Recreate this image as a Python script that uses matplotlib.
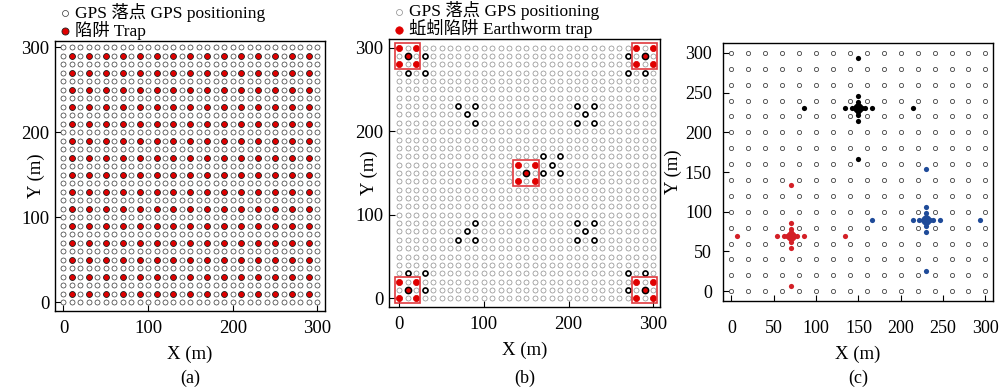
import matplotlib
matplotlib.use("Agg")
import numpy as np
import matplotlib.pyplot as plt
from matplotlib.patches import Rectangle

plt.rcParams['font.family'] = ['Liberation Serif', 'Noto Sans CJK SC']
plt.rcParams['font.size'] = 13

# ---- data ----
grid_ab = [0, 10, 20, 30, 40, 50, 60, 70, 80, 90, 100, 110, 120, 130, 140, 150,
           160, 170, 180, 190, 200, 210, 220, 230, 240, 250, 260, 270, 280, 290, 300]
traps_a = [10, 30, 50, 70, 90, 110, 130, 150, 170, 190, 210, 230, 250, 270, 290]

# panel b: earthworm traps (cluster corners), cluster centres, highlighted GPS points
trap_b_x = [0, 20, 0, 20, 280, 300, 280, 300, 0, 20, 0, 20, 280, 300, 280, 300,
            140, 160, 140, 160]
trap_b_y = [300, 300, 280, 280, 300, 300, 280, 280, 20, 20, 0, 0, 20, 20, 0, 0,
            160, 160, 140, 140]
centre_b_x = [10, 290, 10, 290, 150]
centre_b_y = [290, 290, 10, 10, 150]
box_b_x = [-5, 275, -5, 275, 135]
box_b_y = [275, 275, -5, -5, 135]
gps_b_x = [30, 10, 30, 270, 270, 290, 10, 30, 30, 270, 290, 270,
           70, 90, 80, 90, 210, 230, 220, 210, 230,
           170, 190, 180, 170, 190, 90, 80, 70, 90,
           210, 230, 220, 210, 230]
gps_b_y = [290, 270, 270, 290, 270, 270, 30, 30, 10, 30, 30, 10,
           230, 230, 220, 210, 230, 230, 220, 210, 210,
           170, 170, 160, 150, 150, 90, 80, 70, 70,
           90, 90, 80, 70, 70]

# panel c
grid_c = [0, 20, 40, 60, 80, 100, 120, 140, 160, 180, 200, 220, 240, 260, 280, 300]
offsets_c = [-64, -16, -8, -4, -2, -1, 1, 2, 4, 8, 16, 64]
centres_c = [(70, 70), (150, 230), (230, 90)]
colors_c = ['#d42027', '#000000', '#1f4b99']

fig = plt.figure(figsize=(10, 3.87), dpi=100)
ax_a = fig.add_axes([0.055, 0.197, 0.270, 0.698])
ax_b = fig.add_axes([0.389, 0.2075, 0.271, 0.691])
ax_c = fig.add_axes([0.723, 0.223, 0.270, 0.667])

gx, gy = np.meshgrid(grid_ab, grid_ab)
tx, ty = np.meshgrid(traps_a, traps_a)

# (a)
ax_a.scatter(gx.ravel(), gy.ravel(), s=13, facecolor='white', edgecolor='#333333',
             linewidth=0.5, label='GPS 落点 GPS positioning', zorder=2)
ax_a.scatter(tx.ravel(), ty.ravel(), s=18, facecolor='#e00000', edgecolor='#222222',
             linewidth=0.6, label='陷阱 Trap', zorder=3)
ax_a.set_xlim(-10, 309)
ax_a.set_ylim(-10, 308)

# (b)
ax_b.scatter(gx.ravel(), gy.ravel(), s=13, facecolor='white', edgecolor='#8a8a8a',
             linewidth=0.5, label='GPS 落点 GPS positioning', zorder=2)
ax_b.scatter(gps_b_x, gps_b_y, s=13, facecolor='white', edgecolor='black',
             linewidth=1.2, zorder=3)
ax_b.scatter(trap_b_x, trap_b_y, s=20, facecolor='#e00000', edgecolor='#e00000',
             linewidth=0.5, label='蚯蚓陷阱 Earthworm trap', zorder=4)
ax_b.scatter(centre_b_x, centre_b_y, s=20, facecolor='#e00000', edgecolor='black',
             linewidth=1.1, zorder=4)
for bx, by in zip(box_b_x, box_b_y):
    ax_b.add_patch(Rectangle((bx, by), 30, 30, fill=False, edgecolor='#e0393e',
                             linewidth=1.2, zorder=5))
ax_b.set_xlim(-12, 308)
ax_b.set_ylim(-10, 310)

# (c)
cx, cy = np.meshgrid(grid_c, grid_c)
ax_c.scatter(cx.ravel(), cy.ravel(), s=9, facecolor='white', edgecolor='#444444',
             linewidth=0.6, zorder=2)
for (x0, y0), col in zip(centres_c, colors_c):
    px = [x0 + d for d in offsets_c] + [x0] * len(offsets_c)
    py = [y0] * len(offsets_c) + [y0 + d for d in offsets_c]
    ax_c.scatter(px, py, s=14, color=col, linewidth=0, zorder=3)
    ax_c.scatter([x0], [y0], s=55, color=col, linewidth=0, zorder=4)
ax_c.set_xlim(-10, 309)
ax_c.set_ylim(-12, 313)

for ax in (ax_a, ax_b):
    ax.set_xticks([0, 100, 200, 300])
    ax.set_yticks([0, 100, 200, 300])
    ax.tick_params(direction='in', length=4, width=0.8, pad=7, labelsize=13.5)
    ax.tick_params(axis='y', pad=4)
    ax.legend(loc='lower left', bbox_to_anchor=(0.0, 1.0), frameon=False,
              borderaxespad=0.05, handletextpad=0.1, labelspacing=-0.05,
              handlelength=1.0, borderpad=0.0, fontsize=12.5, markerscale=1.2)

ax_c.set_xticks([0, 50, 100, 150, 200, 250, 300])
ax_c.set_yticks([0, 50, 100, 150, 200, 250, 300])
ax_c.tick_params(direction='in', length=4, width=0.8, pad=14, labelsize=13)
ax_c.tick_params(axis='y', pad=8)

for ax, tag in zip((ax_a, ax_b, ax_c), ['(a)', '(b)', '(c)']):
    for sp in ax.spines.values():
        sp.set_linewidth(1.0)
    ax.set_xlabel('X (m)', labelpad=6, fontsize=13.5)
    ax.set_ylabel('Y (m)', fontsize=13.5, labelpad=2)
    pos = ax.get_position()
    fig.text(pos.x0 + pos.width / 2, 0.023, tag, ha='center', va='center', fontsize=13)

# in (a) and (b) the Y label sits in the gap between tick labels
ax_a.yaxis.set_label_coords(-0.037, 0.50)
ax_b.yaxis.set_label_coords(-0.041, 0.50)

fig.savefig('out.png', dpi=100)
